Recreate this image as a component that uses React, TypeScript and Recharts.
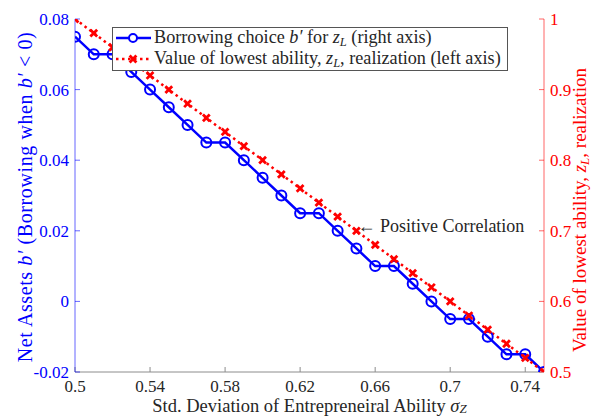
import React from "react";
import { LineChart, Line, XAxis, YAxis, ReferenceDot } from "recharts";

// std. deviation of entrepreneurial ability (x)
const sigmaZ = [
  0.5, 0.51, 0.52, 0.53, 0.54, 0.55, 0.56, 0.57, 0.58, 0.59, 0.6, 0.61, 0.62,
  0.63, 0.64, 0.65, 0.66, 0.67, 0.68, 0.69, 0.7, 0.71, 0.72, 0.73, 0.74, 0.75,
];
// borrowing choice b' for z_L (left scale)
const borrowing = [
  0.075, 0.07, 0.07, 0.065, 0.06, 0.055, 0.05, 0.045, 0.045, 0.04, 0.035, 0.03,
  0.025, 0.025, 0.02, 0.015, 0.01, 0.01, 0.005, 0, -0.005, -0.005, -0.01,
  -0.015, -0.015, -0.02,
];
// lowest ability realization z_L (right scale)
const lowestAbility = [
  1, 0.98, 0.96, 0.94, 0.92, 0.9, 0.88, 0.86, 0.84, 0.82, 0.8, 0.78, 0.76,
  0.74, 0.72, 0.7, 0.68, 0.66, 0.64, 0.62, 0.6, 0.58, 0.56, 0.54, 0.52, 0.5,
];

const xTicks = [0.5, 0.54, 0.58, 0.62, 0.66, 0.7, 0.74];
const leftTicks = [-0.02, 0, 0.02, 0.04, 0.06, 0.08];
const rightTicks = [0.5, 0.6, 0.7, 0.8, 0.9, 1];

const data = sigmaZ.map((s, i) => ({ s, b: borrowing[i], z: lowestAbility[i] }));

const BLUE = "#0000ff";
const RED = "#ff0000";
const GREY = "#262626";
const SERIF = "Liberation Serif";

const CrossDot = (props: any) => {
  const { cx, cy } = props;
  if (cx == null || cy == null) return <g />;
  const d = 3.4;
  return (
    <path
      d={`M${cx - d},${cy - d}L${cx + d},${cy + d}M${cx - d},${cy + d}L${cx + d},${cy - d}`}
      stroke={RED}
      strokeWidth={2.8}
      fill="none"
    />
  );
};

const XTitle = (props: any) => {
  const { x, width } = props.viewBox;
  return (
    <text x={x + width / 2} y={411.5} textAnchor="middle" fill={GREY} fontSize={18.5} fontFamily={SERIF}>
      Std. Deviation of Entrepreneiral Ability{" "}
      <tspan fontStyle="italic">σ</tspan>
      <tspan fontStyle="italic" fontSize={13} dy={1.5}>Z</tspan>
    </text>
  );
};

const LeftTitle = () => {
  const x = 32;
  const y = 197;
  return (
    <text
      x={x}
      y={y}
      transform={`rotate(-90, ${x}, ${y})`}
      textAnchor="middle"
      fill={BLUE}
      fontSize={20}
      letterSpacing={0.6}
      fontFamily={SERIF}
    >
      Net Assets <tspan fontStyle="italic">b′</tspan> (Borrowing when{" "}
      <tspan fontStyle="italic">b′</tspan> {"< 0)"}
    </text>
  );
};

const RightTitle = () => {
  const x = 586;
  const y = 210;
  return (
    <text x={x} y={y} transform={`rotate(-90, ${x}, ${y})`} textAnchor="middle" fill={RED} fontSize={19} fontFamily={SERIF}>
      Value of lowest ability, <tspan fontStyle="italic">z</tspan>
      <tspan fontSize={13} fontStyle="italic" dy={2.5}>L</tspan>
      <tspan dy={-2.5}>, realization</tspan>
    </text>
  );
};

const Annotation = (props: any) => {
  const { x, y, width, height } = props.viewBox;
  const cx = x + width / 2;
  const cy = y + height / 2;
  return (
    <text x={cx + 1} y={cy + 1.5} fill={GREY} fontSize={18} fontFamily={SERIF}>
      ← Positive Correlation
    </text>
  );
};

const subStyle = { fontSize: 12.5, fontStyle: "italic", lineHeight: 0, verticalAlign: "-0.2em" } as const;

const LegendBox = () => (
  <div
    style={{
      position: "absolute",
      left: 112,
      top: 27,
      width: 396,
      height: 44,
      boxSizing: "border-box",
      border: "1px solid #555",
      background: "#fff",
      fontFamily: SERIF,
      fontSize: 18.2,
      color: GREY,
    }}
  >
    <svg width={40} height={44} style={{ position: "absolute", left: 0, top: 0 }}>
      <line x1={3} y1={10} x2={38} y2={10} stroke={BLUE} strokeWidth={2.5} />
      <circle cx={20} cy={10} r={4} stroke={BLUE} strokeWidth={2} fill="#fff" />
      <line x1={3} y1={31} x2={38} y2={31} stroke={RED} strokeWidth={2.5} strokeDasharray="2.5 3.5" />
      <CrossDot cx={20} cy={31} />
    </svg>
    <div style={{ position: "absolute", left: 41, top: 0, lineHeight: "19px", whiteSpace: "nowrap" }}>
      Borrowing choice <i>b′</i> for <i>z</i>
      <sub style={subStyle}>L</sub> (right axis)
    </div>
    <div style={{ position: "absolute", left: 41, top: 21, lineHeight: "19px", whiteSpace: "nowrap" }}>
      Value of lowest ability, <i>z</i>
      <sub style={subStyle}>L</sub>, realization (left axis)
    </div>
  </div>
);

const noTick = () => <g />;

export default function App() {
  return (
    <div style={{ position: "absolute", left: 0, top: 0, width: 592, height: 416, background: "#fff", fontFamily: SERIF }}>
      <LineChart width={592} height={416} data={data} margin={{ top: 19, right: 0, bottom: 0, left: 0 }}>
        <XAxis
          dataKey="s"
          type="number"
          domain={[0.5, 0.75]}
          ticks={xTicks}
          tickFormatter={(v: number) => String(v)}
          height={44}
          tickSize={-5}
          tickMargin={13}
          stroke="#8c8c8c"
          tick={{ fill: GREY, fontSize: 17, fontFamily: SERIF }}
          label={<XTitle />}
          allowDataOverflow
        />
        <XAxis
          xAxisId="top"
          orientation="top"
          dataKey="s"
          type="number"
          domain={[0.5, 0.75]}
          ticks={xTicks}
          height={0}
          tickSize={-5}
          stroke="#8c8c8c"
          tick={noTick}
          allowDataOverflow
        />
        <YAxis
          yAxisId="left"
          type="number"
          domain={[-0.02, 0.08]}
          ticks={leftTicks}
          tickFormatter={(v: number) => String(v)}
          width={75}
          tickSize={-5}
          tickMargin={11}
          stroke={BLUE}
          strokeOpacity={0.6}
          tick={{ fill: BLUE, fontSize: 17, fontFamily: SERIF }}
          label={<LeftTitle />}
          allowDataOverflow
        />
        <YAxis
          yAxisId="right"
          orientation="right"
          type="number"
          domain={[0.5, 1]}
          ticks={rightTicks}
          tickFormatter={(v: number) => String(v)}
          width={48}
          tickSize={-5}
          tickMargin={11}
          stroke={RED}
          strokeOpacity={0.6}
          tick={{ fill: RED, fontSize: 17, fontFamily: SERIF }}
          label={<RightTitle />}
          allowDataOverflow
        />
        <Line
          yAxisId="left"
          dataKey="b"
          stroke={BLUE}
          strokeWidth={2.5}
          dot={{ r: 5, stroke: BLUE, strokeWidth: 2, fill: "none" }}
          isAnimationActive={false}
        />
        <Line
          yAxisId="right"
          dataKey="z"
          stroke={RED}
          strokeWidth={2.5}
          strokeDasharray="2.5 3.5"
          dot={<CrossDot />}
          isAnimationActive={false}
        />
        <ReferenceDot
          yAxisId="right"
          x={0.65}
          y={0.7}
          r={1}
          fill="none"
          stroke="none"
          label={<Annotation />}
        />
      </LineChart>
      <LegendBox />
    </div>
  );
}
